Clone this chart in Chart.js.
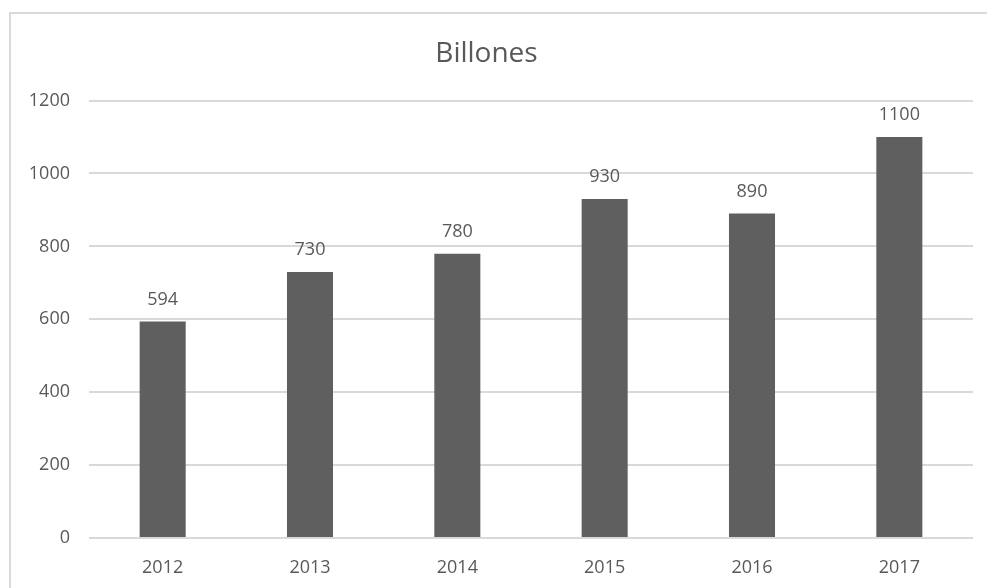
<!DOCTYPE html>
<html>
<head>
<meta charset="utf-8">
<script src="https://cdn.jsdelivr.net/npm/chart.js@4/dist/chart.umd.min.js"></script>
<style>
  html, body { margin: 0; padding: 0; background: #fff; }
  #wrap { position: relative; width: 987px; height: 588px; }
  #frame { position: absolute; left: 9px; top: 12px; right: 0; bottom: 0;
           border-left: 2px solid #d9d9d9; border-top: 2px solid #d9d9d9; pointer-events: none; }
</style>
</head>
<body>
<div id="wrap">
  <canvas id="chart" width="987" height="588"></canvas>
  <div id="frame"></div>
</div>
<script>
const years = ["2012", "2013", "2014", "2015", "2016", "2017"];
const billones = [594, 730, 780, 930, 890, 1100];
const yTicks = [0, 200, 400, 600, 800, 1000, 1200];

const textGray = "#595959";
const fontFam = "'Open Sans', 'Noto Sans', sans-serif";

// labels on top of each bar
const barLabels = {
  id: "barLabels",
  afterDatasetsDraw(chart) {
    const ctx = chart.ctx;
    const meta = chart.getDatasetMeta(0);
    ctx.save();
    ctx.font = "18px " + fontFam;
    ctx.fillStyle = textGray;
    ctx.textAlign = "center";
    ctx.textBaseline = "middle";
    meta.data.forEach((bar, i) => {
      ctx.fillText(billones[i], bar.x, bar.y - 22);
    });
    ctx.restore();
  }
};

new Chart(document.getElementById("chart"), {
  type: "bar",
  data: {
    labels: years,
    datasets: [{
      label: "Billones",
      data: billones,
      backgroundColor: "#5f5f5f",
      categoryPercentage: 1,
      barPercentage: 0.3125
    }]
  },
  options: {
    responsive: false,
    animation: false,
    layout: { padding: { left: 0, right: 14, top: 0, bottom: 0 } },
    plugins: {
      legend: { display: false },
      tooltip: { enabled: false },
      title: {
        display: true,
        text: "Billones",
        color: textGray,
        font: { family: fontFam, size: 28, weight: "normal" },
        padding: { top: 37, bottom: 30 }
      }
    },
    scales: {
      x: {
        grid: { display: false },
        border: { display: false },
        ticks: { color: textGray, font: { family: fontFam, size: 18 }, padding: 11 },
        afterFit(s) { s.height = 50; }
      },
      y: {
        min: 0,
        max: 1200,
        afterBuildTicks(s) { s.ticks = yTicks.map(v => ({ value: v })); },
        grid: { color: "#d9d9d9", lineWidth: 2, drawTicks: false },
        border: { display: false },
        ticks: {
          color: textGray,
          font: { family: fontFam, size: 18 },
          padding: 19,
          callback: v => String(v)
        },
        afterFit(s) { s.width = 89; }
      }
    }
  },
  plugins: [barLabels]
});
</script>
</body>
</html>
